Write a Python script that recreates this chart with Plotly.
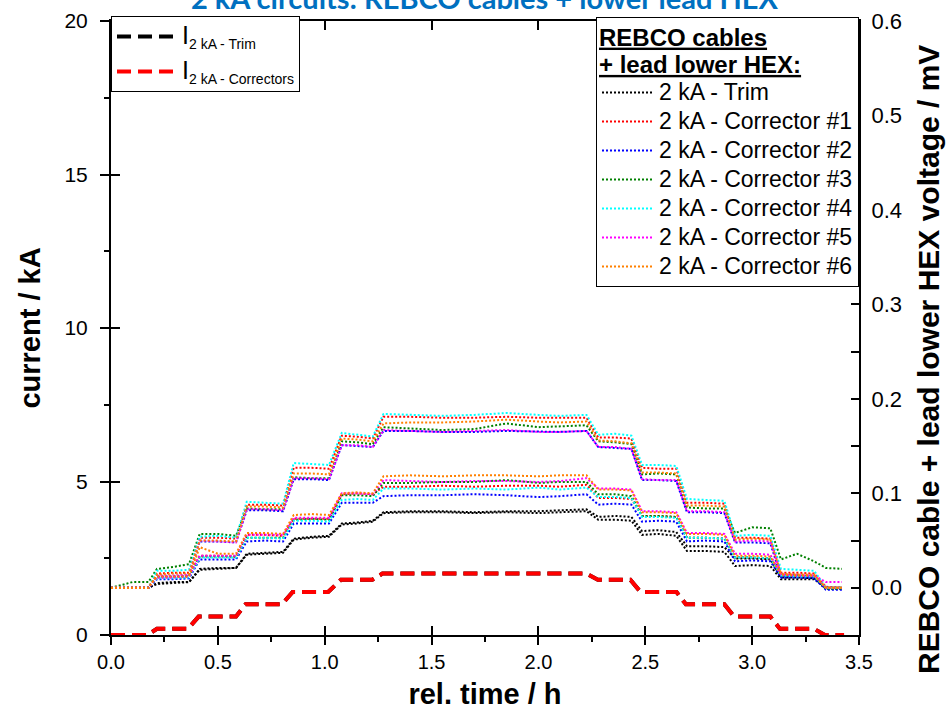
import plotly.graph_objects as go

# ---------------- data ----------------
t_current = [0.0, 0.17, 0.215, 0.36, 0.41, 0.585, 0.63, 0.80, 0.85, 1.016, 1.076, 1.223, 1.27,
             2.224, 2.278, 2.43, 2.478, 2.646, 2.69, 2.87, 2.916, 3.085, 3.13, 3.29, 3.34, 3.43]
I_trim = [0, 0, 0.2, 0.2, 0.6, 0.6, 1.0, 1.0, 1.4, 1.4, 1.8, 1.8, 2.0,
          2.0, 1.8, 1.8, 1.4, 1.4, 1.0, 1.0, 0.6, 0.6, 0.2, 0.2, 0.0, 0.0]
I_correctors = [0, 0, 0.2, 0.2, 0.6, 0.6, 1.0, 1.0, 1.4, 1.4, 1.8, 1.8, 2.0,
                2.0, 1.8, 1.8, 1.4, 1.4, 1.0, 1.0, 0.6, 0.6, 0.2, 0.2, 0.0, 0.0]

t_voltage = [0.00, 0.10, 0.175, 0.215, 0.29, 0.365, 0.415, 0.50, 0.585, 0.635, 0.72, 0.805,
             0.855, 0.94, 1.02, 1.08, 1.15, 1.225, 1.275, 1.40, 1.55, 1.70, 1.85, 2.00, 2.10,
             2.225, 2.28, 2.36, 2.435, 2.485, 2.56, 2.645, 2.695, 2.78, 2.87, 2.92, 3.00, 3.085,
             3.135, 3.21, 3.29, 3.345, 3.42]

# voltages in mV (two taps per circuit)
V_trim_a = [0, 0, 0, .005, .006, .006, .020, .021, .021, .036, .037, .038, .052, .054, .055,
            .068, .069, .071, .080, .081, .081, .080, .081, .081, .082, .083,
            .075, .076, .075, .060, .061, .059, .044, .044, .043, .031, .031, .030,
            .011, .011, .010, .000, .000]
V_trim_b = [0, 0, 0, .004, .005, .006, .019, .020, .021, .035, .036, .037, .051, .053, .054,
            .067, .068, .070, .079, .080, .080, .079, .080, .079, .080, .081,
            .072, .072, .071, .056, .057, .055, .039, .039, .038, .023, .024, .023,
            .009, .009, .009, .000, .000]

V_c1_a = [0, 0, 0, .015, .016, .016, .053, .053, .052, .088, .088, .087, .127, .127, .126,
          .161, .160, .158, .181, .181, .180, .180, .181, .180, .180, .180,
          .159, .159, .158, .127, .126, .126, .090, .090, .089, .053, .053, .052,
          .016, .016, .015, .001, .000]
V_c1_b = [0, 0, 0, .011, .011, .012, .034, .034, .033, .056, .056, .055, .073, .073, .073,
          .099, .100, .099, .107, .107, .108, .107, .108, .108, .107, .109,
          .095, .095, .094, .076, .076, .075, .053, .053, .052, .032, .032, .031,
          .013, .013, .012, .000, .000]

V_c2_a = [0, 0, 0, .012, .012, .013, .049, .049, .048, .082, .082, .081, .115, .115, .114,
          .151, .150, .149, .166, .166, .165, .165, .166, .165, .165, .166,
          .149, .148, .147, .114, .114, .113, .080, .080, .079, .048, .048, .047,
          .012, .012, .011, -.001, -.001]
V_c2_b = [0, 0, 0, .009, .009, .010, .030, .030, .030, .049, .050, .049, .068, .068, .068,
          .090, .090, .090, .097, .098, .098, .099, .098, .096, .097, .099,
          .088, .089, .088, .070, .071, .070, .049, .050, .049, .028, .029, .028,
          .011, .011, .010, -.002, -.002]

V_c3_a = [0, .006, .006, .020, .022, .025, .057, .057, .055, .084, .083, .083, .117, .116, .116,
          .155, .154, .152, .170, .169, .167, .168, .174, .170, .171, .172,
          .155, .154, .152, .120, .121, .120, .085, .084, .084, .058, .064, .063,
          .030, .036, .028, .021, .020]
V_c3_b = [0, 0, 0, .012, .012, .012, .033, .033, .033, .053, .053, .053, .072, .073, .072,
          .098, .098, .097, .111, .111, .112, .112, .114, .111, .112, .112,
          .099, .099, .097, .076, .076, .075, .053, .053, .052, .032, .032, .031,
          .013, .013, .012, -.001, -.001]

V_c4_a = [0, 0, 0, .018, .018, .019, .054, .055, .053, .091, .090, .089, .132, .131, .130,
          .164, .162, .160, .184, .183, .182, .183, .185, .183, .182, .183,
          .162, .163, .161, .130, .130, .129, .094, .093, .092, .055, .056, .055,
          .020, .019, .018, .000, .000]
V_c4_b = [0, 0, 0, .010, .010, .011, .032, .032, .032, .053, .053, .052, .071, .071, .070,
          .093, .094, .093, .105, .105, .104, .105, .104, .106, .104, .106,
          .096, .096, .095, .075, .075, .074, .053, .053, .052, .032, .032, .031,
          .013, .012, .012, .000, .000]

V_c5_a = [0, 0, 0, .013, .013, .014, .050, .049, .048, .083, .083, .082, .116, .116, .115,
          .151, .151, .149, .167, .166, .165, .166, .167, .165, .165, .166,
          .149, .149, .147, .115, .114, .114, .081, .081, .080, .049, .050, .049,
          .014, .013, .013, .000, .000]
V_c5_b = [0, 0, 0, .011, .011, .012, .034, .034, .034, .056, .056, .056, .074, .074, .074,
          .100, .100, .099, .114, .113, .112, .113, .113, .112, .113, .116,
          .105, .105, .104, .081, .081, .080, .058, .058, .057, .036, .036, .035,
          .014, .013, .013, .006, .006]

V_c6_a = [0, 0, 0, .014, .015, .015, .050, .050, .049, .086, .086, .085, .121, .121, .120,
          .158, .157, .155, .174, .175, .175, .176, .178, .176, .175, .176,
          .156, .155, .153, .122, .122, .121, .087, .087, .086, .051, .052, .051,
          .015, .014, .014, .000, .000]
V_c6_b = [0, 0, 0, .012, .012, .012, .043, .036, .036, .058, .058, .057, .077, .078, .077,
          .100, .101, .100, .118, .119, .118, .119, .119, .118, .119, .119,
          .104, .104, .103, .080, .080, .079, .057, .057, .056, .034, .034, .033,
          .014, .013, .013, .000, .000]

voltage_names = ["2 kA - Trim", "2 kA - Corrector #1", "2 kA - Corrector #2", "2 kA - Corrector #3",
                 "2 kA - Corrector #4", "2 kA - Corrector #5", "2 kA - Corrector #6"]
voltage_colors = ["#000000", "#ff0000", "#0000ff", "#008000", "#00ffff", "#ff00ff", "#ff8000"]
voltage_pairs = [(V_trim_a, V_trim_b), (V_c1_a, V_c1_b), (V_c2_a, V_c2_b), (V_c3_a, V_c3_b),
                 (V_c4_a, V_c4_b), (V_c5_a, V_c5_b), (V_c6_a, V_c6_b)]

FONT = "Liberation Sans, Arial, sans-serif"

fig = go.Figure()

# currents (left axis)
fig.add_trace(go.Scatter(
    x=t_current, y=I_trim, mode="lines", legend="legend", legendgroup="trim",
    name='<span style="font-size:25px">I</span><sub><span style="font-size:14px">2 kA - Trim</span></sub>',
    line=dict(color="black", width=4, dash="14px,7px")))
fig.add_trace(go.Scatter(
    x=t_current, y=I_correctors, mode="lines", legend="legend", legendgroup="corr",
    name='<span style="font-size:25px">I</span><sub><span style="font-size:14px">2 kA - Correctors</span></sub>',
    line=dict(color="#ff0000", width=4, dash="14px,7px")))

# voltages (right axis)
for name, col, (va, vb) in zip(voltage_names, voltage_colors, voltage_pairs):
    fig.add_trace(go.Scatter(x=t_voltage, y=va, mode="lines", yaxis="y2", legend="legend2",
                             name='<span style="font-size:23px">' + name + '</span>',
                             legendgroup=name,
                             line=dict(color=col, width=2, dash="2px,2px")))
    fig.add_trace(go.Scatter(x=t_voltage, y=vb, mode="lines", yaxis="y2", legend="legend2",
                             name=name, legendgroup=name, showlegend=False,
                             line=dict(color=col, width=2, dash="2px,2px")))

# helper traces for overlay tick axes
fig.add_trace(go.Scatter(x=[None], y=[None], xaxis="x3", yaxis="y", showlegend=False, hoverinfo="skip"))
fig.add_trace(go.Scatter(x=[None], y=[None], xaxis="x", yaxis="y3", showlegend=False, hoverinfo="skip"))

axis_common = dict(showgrid=False, zeroline=False, linecolor="black", tickcolor="black")

fig.update_layout(
    template="none",
    width=947, height=721,
    margin=dict(l=111, r=88, t=21, b=86),
    paper_bgcolor="white", plot_bgcolor="white",
    font=dict(family=FONT, color="black", size=20),
    xaxis=dict(range=[0, 3.5], dtick=0.5, tick0=0, tickformat=".1f", ticks="outside", ticklen=8,
               tickwidth=2, showline=True, linewidth=2, mirror=True,
               tickfont=dict(size=20),
               minor=dict(dtick=0.25, ticks="outside", ticklen=5, tickwidth=2, tickcolor="black"),
               title=dict(text="<b>rel. time / h</b>", font=dict(size=29), standoff=12),
               **axis_common),
    xaxis3=dict(range=[0, 3.5], overlaying="x", anchor="y", dtick=0.5, tick0=0, ticks="inside",
                ticklen=9, tickwidth=2, showticklabels=False, showline=False, mirror="ticks",
                **axis_common),
    yaxis=dict(range=[0, 20], dtick=5, tick0=0, ticks="outside", ticklen=9, tickwidth=2,
               showline=True, linewidth=2, mirror=False, ticklabelstandoff=8,
               tickfont=dict(size=21),
               minor=dict(dtick=2.5, ticks="outside", ticklen=5, tickwidth=2, tickcolor="black"),
               title=dict(text="<b>current / kA</b>", font=dict(size=29), standoff=15),
               **axis_common),
    yaxis3=dict(range=[0, 20], overlaying="y", anchor="x", side="left", dtick=5, tick0=0,
                ticks="inside", ticklen=9, tickwidth=2, showticklabels=False, showline=False,
                **axis_common),
    yaxis2=dict(range=[-0.05, 0.6], overlaying="y", side="right", anchor="x", dtick=0.1, tick0=0,
                tickformat=".1f", ticks="inside", ticklen=8, tickwidth=2, showline=True, linewidth=2,
                tickfont=dict(size=22), ticklabelstandoff=6,
                minor=dict(dtick=0.05, ticks="inside", ticklen=8, tickwidth=2, tickcolor="black"),
                **axis_common),
    legend=dict(x=0.0, y=1.008, xanchor="left", yanchor="top", bgcolor="white",
                bordercolor="black", borderwidth=1, font=dict(size=20, family=FONT),
                itemwidth=60, tracegroupgap=6),
    legend2=dict(x=1.0, y=1.006, xanchor="right", yanchor="top", bgcolor="white",
                 bordercolor="black", borderwidth=1, font=dict(size=20, family=FONT),
                 itemwidth=52, tracegroupgap=0,
                 title=dict(text='<span style="font-size:24px"><b><u>REBCO cables</u></b><br>'
                                 '<b><u>+ lead lower HEX:</u></b></span>',
                            font=dict(size=21, family=FONT), side="top")),
    annotations=[
        dict(text="<b>2 kA circuits: REBCO cables + lower lead HEX</b>",
             xref="paper", yref="paper", x=0.5, y=1.0375, xanchor="center",
             yanchor="middle", showarrow=False,
             font=dict(family="Lato, " + FONT, size=29, color="#0070C0")),
        dict(text="<b>REBCO cable + lead lower HEX voltage / mV</b>",
             xref="paper", yref="paper", x=(928 - 111) / 748, y=(635 - 360) / 614,
             xanchor="center", yanchor="middle", textangle=-90, showarrow=False,
             font=dict(family=FONT, size=30, color="black")),
    ],
)

fig.write_html("out.html")
